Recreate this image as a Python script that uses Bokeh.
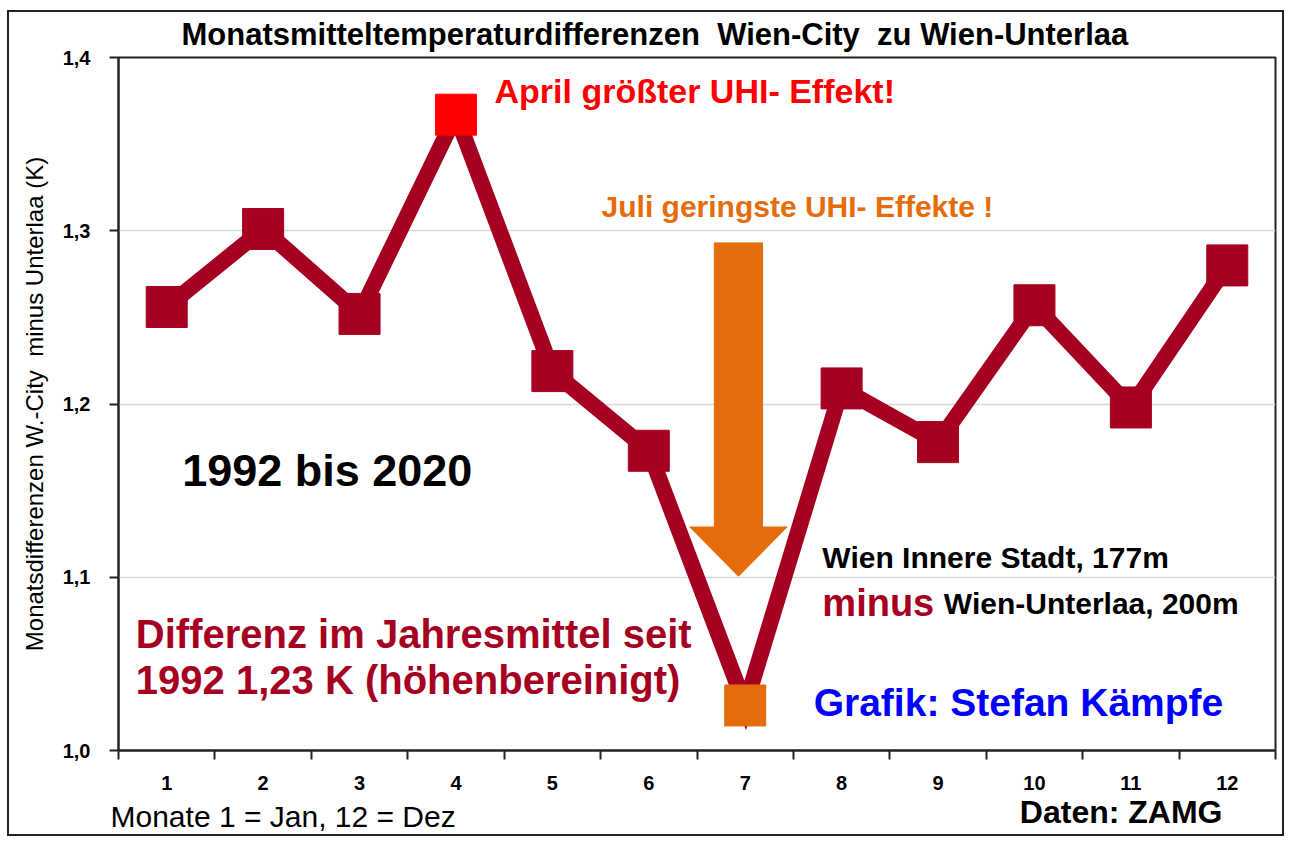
from bokeh.plotting import figure
from bokeh.models import FixedTicker, Range1d, Label, Title
from bokeh.embed import file_html
from bokeh.resources import INLINE

# ---- data ----
months = list(range(1, 13))
diff = [1.256, 1.301, 1.252, 1.367, 1.219, 1.173, 1.026, 1.209, 1.178, 1.257, 1.198, 1.280]
xtick_labels = [str(m) for m in months]
ytick_values = [1.0, 1.1, 1.2, 1.3, 1.4]
ytick_labels = ["1,0", "1,1", "1,2", "1,3", "1,4"]
max_month = 4
min_month = 7

DARKRED = "#A50021"
RED = "#FF0000"
ORANGE = "#E46C0A"
BLUE = "#0000FF"
FONT = "Liberation Sans"
NB = "\u00a0"

p = figure(width=1277, height=826, output_backend="svg", toolbar_location=None,
           x_range=Range1d(0.5, 12.5), y_range=Range1d(1.0, 1.4),
           min_border_left=109, min_border_right=11, min_border_top=44, min_border_bottom=88)
p.styles = {"border": "2px solid #222", "margin-left": "7px", "margin-top": "10px"}
p.outline_line_color = "#222"
p.outline_line_width = 2
p.background_fill_color = "white"
p.border_fill_color = "white"

# title
p.title.text = "Monatsmitteltemperaturdifferenzen" + NB + " Wien-City" + NB + " zu Wien-Unterlaa"
p.title.align = "left"
p.title.offset = 63
p.title.vertical_align = "top"
p.title.text_font = FONT
p.title.text_font_style = "bold"
p.title.text_font_size = "31px"
p.title.text_color = "black"
p.title.standoff = 8

# axes
xa = p.xaxis[0]
xa.ticker = FixedTicker(ticks=months, minor_ticks=[m - 0.5 for m in months] + [12.5])
xa.major_label_overrides = {m: l for m, l in zip(months, xtick_labels)}
xa.major_tick_out = 0
xa.major_tick_in = 0
xa.minor_tick_out = 9
xa.minor_tick_in = 0
xa.minor_tick_line_color = "#222"
xa.minor_tick_line_width = 2
xa.axis_line_color = "#222"
xa.axis_line_width = 2
xa.major_label_standoff = 16
xa.major_label_text_font = FONT
xa.major_label_text_font_style = "bold"
xa.major_label_text_font_size = "20px"
xa.major_label_text_color = "black"

ya = p.yaxis[0]
ya.ticker = FixedTicker(ticks=ytick_values, minor_ticks=[])
ya.major_label_overrides = {v: l for v, l in zip(ytick_values, ytick_labels)}
ya.major_tick_out = 9
ya.major_tick_in = 0
ya.major_tick_line_color = "#222"
ya.major_tick_line_width = 2
ya.axis_line_color = "#222"
ya.axis_line_width = 2
ya.major_label_standoff = 19
ya.major_label_text_font = FONT
ya.major_label_text_font_style = "bold"
ya.major_label_text_font_size = "20px"
ya.major_label_text_color = "black"
ya.axis_label = "Monatsdifferenzen W.-City" + NB + " minus Unterlaa (K)"
ya.axis_label_text_font = FONT
ya.axis_label_text_font_style = "normal"
ya.axis_label_text_font_size = "24px"
ya.axis_label_text_color = "black"
ya.axis_label_standoff = 12

p.xgrid.visible = False
p.ygrid.ticker = FixedTicker(ticks=ytick_values)
p.ygrid.grid_line_color = "#d9d9d9"
p.ygrid.grid_line_width = 1.5

# bottom notes
p.add_layout(Title(text="Daten: ZAMG", align="right", offset=53, standoff=2,
                   vertical_align="top",
                   text_font=FONT, text_font_style="bold", text_font_size="32px",
                   text_color="black"), "below")
p.add_layout(Title(text="Monate 1 = Jan, 12 = Dez", align="left", offset=-8, standoff=-66,
                   vertical_align="top",
                   text_font=FONT, text_font_style="normal", text_font_size="30px",
                   text_color="black"), "below")

# arrow (annotation)
ax_c, ax_hw, ax_hh = 6.93, 0.25, 0.505
ay_top, ay_base, ay_tip = 1.293, 1.129, 1.1006
p.patch([ax_c - ax_hw, ax_c + ax_hw, ax_c + ax_hw, ax_c + ax_hh, ax_c, ax_c - ax_hh, ax_c - ax_hw],
        [ay_top, ay_top, ay_base, ay_base, ay_tip, ay_base, ay_base],
        fill_color=ORANGE, line_color=ORANGE)

# series
p.line(months, diff, line_width=16, color=DARKRED, line_join="miter")
colors = [RED if m == max_month else ORANGE if m == min_month else DARKRED for m in months]
p.scatter(months, diff, marker="square", size=41, fill_color=colors, line_color=colors)

def add_text(x, y, t, color="black", size="24px", align="left", style="bold"):
    p.add_layout(Label(x=x, y=y, text=t, text_color=color, text_font_size=size,
                       text_align=align, text_baseline="middle", text_font_style=style,
                       text_font=FONT))

add_text(4.40, 1.3804, "April größter UHI- Effekt!", color=RED, size="34px")
add_text(5.51, 1.3141, "Juli geringste UHI- Effekte !", color=ORANGE, size="30px")
add_text(1.16, 1.1614, "1992 bis 2020", size="45px")
add_text(7.80, 1.1112, "Wien Innere Stadt, 177m", size="30px")
add_text(7.80, 1.0853, "minus", color=DARKRED, size="38px")
add_text(9.06, 1.0847, "Wien-Unterlaa, 200m", size="30px")
add_text(0.68, 1.0674, "Differenz im Jahresmittel seit", color=DARKRED, size="40px")
add_text(0.68, 1.0409, "1992 1,23 K (höhenbereinigt)", color=DARKRED, size="40px")
add_text(7.71, 1.0277, "Grafik: Stefan Kämpfe", color=BLUE, size="39px")

open("out.html", "w").write(file_html(p, INLINE))
